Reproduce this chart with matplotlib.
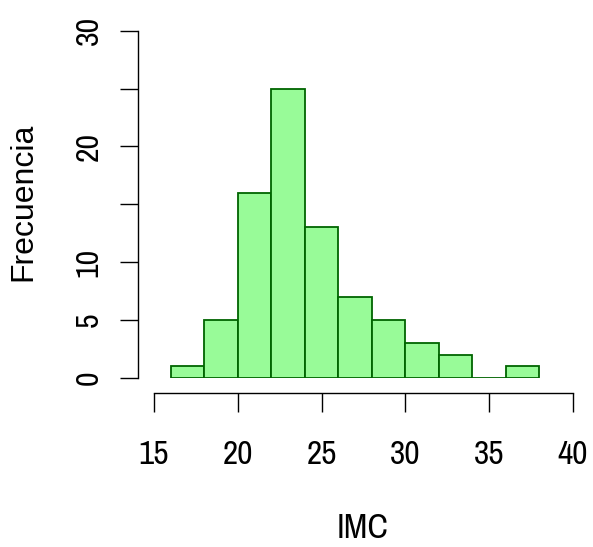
import matplotlib
matplotlib.use("Agg")
import matplotlib.pyplot as plt

# bin edges and counts of the BMI histogram
bin_edges = [16, 18, 20, 22, 24, 26, 28, 30, 32, 34, 36, 38]
counts = [1, 5, 16, 25, 13, 7, 5, 3, 2, 0, 1]
x_ticks = [15, 20, 25, 30, 35, 40]
y_ticks = [0, 5, 10, 15, 20, 25, 30]
y_tick_labels = ["0", "5", "10", "", "20", "", "30"]

narrow = ["Archivo Narrow", "Liberation Sans"]

fig = plt.figure(figsize=(5.93, 5.47), dpi=100)
ax = fig.add_axes([154 / 593, 1 - 377.7 / 547, 419 / 593, 347 / 547])

widths = [b - a for a, b in zip(bin_edges[:-1], bin_edges[1:])]
ax.bar(bin_edges[:-1], counts, width=widths, align="edge",
       color="palegreen", edgecolor="darkgreen", linewidth=1.3)

ax.set_xlim(15, 40)
ax.set_ylim(0, 30)

for s in ["top", "right"]:
    ax.spines[s].set_visible(False)
ax.spines["left"].set_position(("outward", 11.3))
ax.spines["bottom"].set_position(("outward", 10.8))
ax.spines["left"].set_bounds(0, 30)
ax.spines["bottom"].set_bounds(15, 40)
for s in ["left", "bottom"]:
    ax.spines[s].set_linewidth(1.0)

ax.set_xticks(x_ticks)
ax.set_xticklabels([str(t) for t in x_ticks], family=narrow, fontsize=24)
ax.set_yticks(y_ticks)
ax.set_yticklabels(y_tick_labels, family=narrow, fontsize=23,
                   rotation=90, va="center")
ax.tick_params(axis="x", length=13.8, width=1.0, pad=20)
ax.tick_params(axis="y", length=12.7, width=1.0, pad=13)

fig.text(23 / 593, 1 - 202 / 547, "Frecuencia", rotation=90,
         ha="center", va="center", family="Liberation Sans", fontsize=23)
fig.text(363 / 593, 1 - 528 / 547, "IMC", ha="center", va="center",
         family=narrow, fontsize=25)

fig.savefig("out.png", dpi=100)
